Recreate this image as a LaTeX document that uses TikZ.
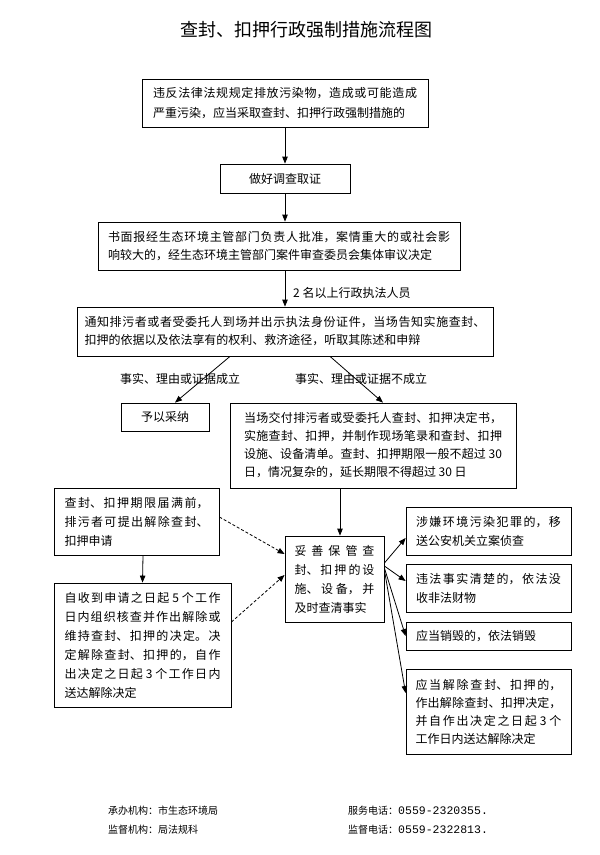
\documentclass[tikz,border=0pt]{standalone}
\usepackage{fontspec}
\setmainfont{Noto Sans CJK SC}
\newfontfamily\monof{Liberation Mono}
\usetikzlibrary{arrows.meta}
\XeTeXlinebreaklocale "zh"
\XeTeXlinebreakskip=0pt plus 8pt
\tolerance=9999
\hbadness=10000
\begin{document}
\begin{tikzpicture}[x=1pt,y=-1pt,
  bx/.style={draw, line width=0.8pt, inner sep=0pt, align=justify},
  bs/.style={font=\fontsize{12}{#1}\selectfont},
  arr/.style={line width=0.8pt, -{Triangle[length=7pt,width=5.5pt]}},
  dsh/.style={arr, dash pattern=on 3pt off 2pt},
  lbl/.style={inner sep=0pt, font=\fontsize{12}{14}\selectfont},
  foot/.style={inner sep=0pt, anchor=west, font=\fontsize{10}{12}\selectfont}]
\useasboundingbox (0,0) rectangle (600,855);

\node[inner sep=0pt, font=\fontsize{18}{20}\selectfont] (title) at (306,30) {查封、扣押行政强制措施流程图};

\node[bx, bs=20, minimum width=286pt, minimum height=48pt, text width=264pt] (b1) at (285,103)
  {违反法律法规规定排放污染物，造成或可能造成\linebreak 严重污染，应当采取查封、扣押行政强制措施的};

\node[bx, bs=14, align=center, minimum width=130pt, minimum height=29pt] (b2) at (285,178.5) {做好调查取证};

\node[bx, bs=18, minimum width=362pt, minimum height=48pt, text width=342pt] (b3) at (279,246)
  {书面报经生态环境主管部门负责人批准，案情重大的或社会影\linebreak 响较大的，经生态环境主管部门案件审查委员会集体审议决定};

\node[lbl, anchor=west] (lab2) at (293,293) {2 名以上行政执法人员};

\node[bx, bs=18, minimum width=416pt, minimum height=49pt, text width=401pt] (b4) at (285,331.5)
  {通知排污者或者受委托人到场并出示执法身份证件，当场告知实施查封、\linebreak 扣押的依据以及依法享有的权利、救济途径，听取其陈述和申辩};

\node[lbl] (labl) at (180,379) {事实、理由或证据成立};
\node[lbl] (labr) at (361,379) {事实、理由或证据不成立};

\node[bx, bs=14, align=center, minimum width=88pt, minimum height=28pt] (cai) at (165,417) {予以采纳};

\node[bx, bs=18, minimum width=286pt, minimum height=85pt, text width=258pt] (dang) at (373,445.5)
  {当场交付排污者或受委托人查封、扣押决定书，\linebreak 实施查封、扣押，并制作现场笔录和查封、扣押\linebreak 设施、设备清单。查封、扣押期限一般不超过 30\linebreak 日，情况复杂的，延长期限不得超过 30 日};

\node[bx, bs=19, minimum width=99pt, minimum height=86pt, text width=80pt] (tuo) at (334.5,579)
  {妥善保管查\linebreak 封、扣押的设\linebreak 施、设备，并\linebreak 及时查清事实};

\node[bx, bs=19, minimum width=165pt, minimum height=48pt, text width=145pt] (r1) at (488.5,531)
  {涉嫌环境污染犯罪的，移\linebreak 送公安机关立案侦查};
\node[bx, bs=19, minimum width=165pt, minimum height=48pt, text width=145pt] (r2) at (488.5,588)
  {违法事实清楚的，依法没\linebreak 收非法财物};
\node[bx, bs=19, minimum width=165pt, minimum height=28pt, text width=145pt] (r3) at (488.5,636)
  {应当销毁的，依法销毁};
\node[bx, bs=18, minimum width=165pt, minimum height=85pt, text width=146pt] (r4) at (488.5,711.5)
  {应当解除查封、扣押的，\linebreak 作出解除查封、扣押决定，\linebreak 并自作出决定之日起 3 个\linebreak 工作日内送达解除决定};

\node[bx, bs=19, minimum width=165pt, minimum height=67pt, text width=144pt] (l1) at (136.5,521.5)
  {查封、扣押期限届满前，\linebreak 排污者可提出解除查封、\linebreak 扣押申请};
\node[bx, bs=19, minimum width=177pt, minimum height=124pt, text width=156pt] (l2) at (142.5,645)
  {自收到申请之日起 5 个工作\linebreak 日内组织核查并作出解除或\linebreak 维持查封、扣押的决定。决\linebreak 定解除查封、扣押的，自作\linebreak 出决定之日起 3 个工作日内\linebreak 送达解除决定};

\node[foot] (f1) at (108,811) {承办机构：市生态环境局};
\node[foot] (f2) at (108,830) {监督机构：局法规科};
\node[foot] (f3) at (348,811) {服务电话：{\monof\fontsize{11.5}{12}\selectfont 0559-2320355.}};
\node[foot] (f4) at (348,830) {监督电话：{\monof\fontsize{11.5}{12}\selectfont 0559-2322813.}};

% connectors
\draw[arr] (b1.south) -- (b2.north);
\draw[arr] (b2.south) -- (b2.south |- b3.north);
\draw[arr] (b2.south |- b3.south) -- (b2.south |- b4.north);
\draw[arr] ([xshift=-55pt]b4.south) -- ([xshift=10pt]cai.north);
\draw[arr] ([xshift=45pt]b4.south) -- ([xshift=10pt]dang.north);
\draw[arr] ([xshift=-33pt]dang.south) -- ([xshift=5.5pt]tuo.north);
\draw[arr] ([yshift=16pt]tuo.east) -- ([yshift=-7pt]r1.west);
\draw[arr] ([yshift=13pt]tuo.east) -- ([yshift=7pt]r2.west);
\draw[arr] ([yshift=11pt]tuo.east) -- (r3.west);
\draw[arr] ([yshift=9pt]tuo.east) -- ([yshift=18.5pt]r4.west);
\draw[arr] ([xshift=6.5pt]l1.south) -- (l2.north);
\draw[dsh] ([yshift=4.5pt]l1.east) -- ([yshift=25pt]tuo.west);
\draw[dsh] ([yshift=23pt]l2.east) -- ([yshift=4pt]tuo.west);
\end{tikzpicture}
\end{document}
